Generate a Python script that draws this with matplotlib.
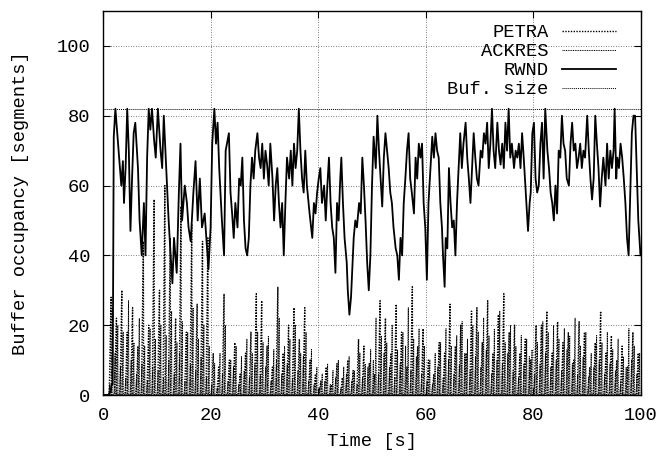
import numpy as np
import matplotlib

matplotlib.use("Agg")
import matplotlib.pyplot as plt

# RWND trace (time [s], segments)
rwnd_t = [0.0, 0.5, 1.0, 1.4, 1.6, 1.8, 2.0, 2.3, 2.9, 3.4, 3.7, 3.9, 4.2, 4.5, 4.8, 5.1, 5.4, 5.7, 6.0, 6.5,
          6.8, 7.2, 7.6, 7.9, 8.2, 8.5, 8.8, 9.1, 9.5, 9.8, 10.2, 10.7, 11.0, 11.3, 11.6, 11.9, 12.2, 12.5, 12.9, 13.2,
          13.7, 14.1, 14.4, 14.7, 15.2, 15.6, 15.9, 16.3, 16.8, 17.2, 17.6, 18.0, 18.4, 18.9, 19.2, 19.6, 20.0, 20.3, 20.7, 21.0,
          21.3, 21.6, 22.1, 22.5, 22.8, 23.4, 23.7, 24.0, 24.3, 24.6, 25.0, 25.3, 25.6, 25.9, 26.2, 26.5, 26.8, 27.1, 27.4, 27.7,
          28.0, 28.3, 28.7, 29.0, 29.3, 29.6, 29.9, 30.2, 30.5, 30.8, 31.1, 31.5, 31.8, 32.1, 32.4, 32.7, 33.0, 33.3, 33.6, 33.9,
          34.2, 34.6, 34.9, 35.2, 35.5, 35.8, 36.1, 36.4, 36.7, 37.0, 37.3, 37.6, 37.9, 38.4, 38.9, 39.2, 39.5, 39.8, 40.1, 40.4,
          40.7, 41.1, 41.4, 41.7, 42.0, 42.3, 42.6, 42.9, 43.2, 43.5, 43.8, 44.1, 44.3, 44.6, 44.9, 45.3, 45.5, 45.8, 46.1, 46.4,
          46.6, 46.9, 47.2, 47.6, 47.9, 48.2, 48.5, 48.8, 49.1, 49.4, 49.7, 50.0, 50.3, 50.7, 51.0, 51.3, 51.6, 51.9, 52.2, 52.5,
          52.8, 53.1, 53.4, 53.7, 54.0, 54.4, 54.7, 55.0, 55.3, 55.6, 55.9, 56.2, 56.5, 56.8, 57.1, 57.4, 57.8, 58.1, 58.4, 58.7,
          59.0, 59.3, 59.6, 59.9, 60.2, 60.5, 60.9, 61.2, 61.5, 61.8, 62.1, 62.4, 62.7, 63.0, 63.2, 63.5, 63.7, 64.0, 64.3, 64.6,
          64.9, 65.2, 65.5, 65.8, 66.1, 66.4, 66.7, 67.0, 67.4, 67.7, 68.0, 68.3, 68.6, 68.9, 69.2, 69.5, 69.8, 70.2, 70.5, 70.8,
          71.1, 71.4, 71.7, 72.0, 72.3, 72.6, 72.9, 73.3, 73.6, 73.9, 74.2, 74.5, 74.8, 75.1, 75.4, 75.7, 76.0, 76.4, 76.7, 77.0,
          77.3, 77.6, 77.9, 78.2, 78.5, 78.8, 79.0, 79.3, 79.5, 79.8, 80.1, 80.4, 80.7, 81.0, 81.3, 81.6, 81.9, 82.2, 82.6, 82.9,
          83.2, 83.5, 83.8, 84.1, 84.4, 84.7, 85.0, 85.3, 85.6, 85.9, 86.2, 86.6, 86.9, 87.2, 87.5, 87.8, 88.1, 88.4, 88.7, 89.0,
          89.3, 89.6, 90.0, 90.3, 90.6, 90.9, 91.2, 91.5, 91.8, 92.1, 92.4, 92.7, 93.0, 93.4, 93.7, 94.0, 94.3, 94.6, 94.9, 95.1,
          95.4, 95.6, 95.9, 96.2, 96.5, 96.8, 97.1, 97.4, 97.7, 98.0, 98.3, 98.6, 98.9, 99.2, 99.5, 99.9]
rwnd_v = [0, 0, 0, 1, 3, 3, 74, 82, 70, 60, 67, 55, 65, 82, 70, 47, 62, 75, 78, 65,
          50, 40, 55, 40, 68, 82, 76, 82, 73, 68, 82, 70, 65, 80, 70, 60, 50, 42, 32, 45,
          35, 58, 72, 50, 60, 55, 48, 44, 58, 67, 50, 62, 48, 52, 45, 36, 48, 72, 82, 72,
          78, 65, 50, 40, 70, 75, 58, 52, 45, 55, 48, 62, 60, 68, 50, 42, 40, 45, 60, 68,
          62, 70, 75, 68, 65, 72, 62, 70, 66, 60, 72, 62, 50, 60, 65, 55, 48, 55, 40, 55,
          68, 62, 70, 60, 72, 65, 70, 82, 70, 62, 58, 70, 60, 52, 45, 55, 52, 58, 62, 65,
          55, 60, 50, 60, 68, 55, 48, 45, 35, 55, 50, 62, 68, 55, 45, 38, 30, 23, 28, 38,
          45, 50, 48, 55, 52, 68, 60, 50, 38, 30, 40, 60, 74, 65, 80, 70, 62, 54, 68, 75,
          70, 65, 58, 55, 48, 42, 40, 33, 45, 40, 55, 62, 70, 75, 62, 58, 52, 68, 62, 72,
          68, 72, 55, 48, 33, 55, 66, 74, 68, 75, 70, 68, 55, 48, 40, 31, 45, 42, 65, 55,
          48, 50, 40, 55, 65, 75, 65, 72, 78, 68, 62, 55, 65, 75, 68, 62, 60, 70, 68, 75,
          72, 78, 65, 72, 82, 70, 65, 78, 70, 66, 72, 65, 78, 70, 82, 68, 72, 65, 70, 68,
          72, 65, 75, 68, 60, 52, 47, 55, 58, 75, 78, 62, 58, 60, 72, 78, 62, 82, 70, 65,
          58, 55, 50, 60, 52, 70, 68, 80, 72, 70, 62, 60, 72, 78, 70, 72, 65, 68, 72, 65,
          70, 68, 80, 70, 62, 56, 62, 80, 72, 65, 54, 62, 68, 60, 72, 62, 70, 65, 70, 82,
          62, 68, 65, 72, 68, 62, 55, 45, 40, 58, 75, 80, 80, 65, 50, 40]

# PETRA: one spike per second (peak value), centred at t = 0.5, 1.5, ...
petra_peaks = [0, 28, 22, 30, 18, 25, 14, 44, 20, 56, 30, 60, 45, 22, 54, 18, 49, 26, 44, 45,
               12, 8, 29, 10, 15, 6, 12, 18, 29, 27, 14, 8, 31, 12, 20, 25, 16, 25, 10, 6,
               4, 8, 3, 9, 5, 10, 7, 16, 14, 9, 6, 27, 22, 12, 26, 18, 8, 31, 14, 19,
               10, 6, 15, 12, 26, 14, 20, 12, 24, 25, 15, 27, 12, 23, 29, 18, 20, 12, 16, 10,
               20, 20, 24, 12, 21, 15, 18, 10, 21, 18, 8, 15, 24, 12, 17, 10, 14, 8, 18, 12]

# ACKRES: one spike every half second (peak value)
ackres_peaks = [0, 0, 3, 25, 12, 20, 8, 18, 5, 27, 10, 15, 6, 22, 9, 14, 4, 19, 8, 16,
                7, 20, 5, 17, 10, 24, 6, 15, 12, 21, 4, 18, 9, 25, 7, 16, 11, 20, 5, 14,
                3, 9, 2, 12, 6, 20, 4, 10, 8, 14, 3, 11, 7, 16, 5, 12, 9, 18, 6, 15,
                8, 17, 4, 13, 10, 22, 6, 14, 9, 16, 5, 20, 7, 12, 11, 18, 4, 13, 3, 8,
                2, 6, 4, 9, 3, 7, 5, 10, 2, 8, 6, 11, 4, 7, 3, 12, 5, 9, 8, 13,
                10, 22, 6, 17, 12, 15, 8, 20, 5, 13, 9, 18, 14, 25, 7, 16, 11, 19, 6, 14,
                4, 10, 3, 12, 8, 15, 5, 19, 10, 14, 6, 17, 9, 21, 12, 16, 7, 20, 11, 18,
                8, 22, 13, 17, 6, 19, 10, 24, 9, 15, 12, 20, 7, 14, 5, 17, 9, 16, 11, 13,
                6, 15, 9, 21, 12, 18, 8, 20, 10, 16, 7, 19, 13, 17, 9, 22, 6, 14, 11, 18,
                5, 12, 8, 17, 10, 15, 6, 18, 9, 13, 7, 16, 4, 11, 8, 19, 10, 14, 6, 12]

buf_size = 82


def sawtooth(step, peaks, rise, fall=0.05):
    t = np.arange(len(peaks)) * step + step / 2
    xs = np.column_stack([t - rise, t, t + fall]).ravel()
    ys = np.column_stack([np.zeros(len(peaks)), peaks, np.zeros(len(peaks))]).ravel()
    return xs, ys


plt.rcParams["font.family"] = "Liberation Mono"
plt.rcParams["font.size"] = 13.5

fig = plt.figure(figsize=(6.66, 4.58), dpi=100)
ax = fig.add_axes([103 / 666, 63 / 458, 538 / 666, 384 / 458])

px, py = sawtooth(1.0, petra_peaks, 0.35)
ax.plot(px, py, color="black", lw=1.0, ls=(0, (1, 1)), label="PETRA")
ackx, acky = sawtooth(0.5, ackres_peaks, 0.2)
ax.plot(ackx, acky, color="black", lw=0.7, ls=(0, (1, 0.8)), label="ACKRES")
ax.plot(rwnd_t, rwnd_v, color="black", lw=1.3, label="RWND")
ax.axhline(buf_size, color="black", lw=0.7, ls=(0, (1, 1)), label="Buf. size")

ax.set_xlim(0, 100)
ax.set_ylim(0, 110)
ax.set_xticks([0, 20, 40, 60, 80, 100])
ax.set_yticks([0, 20, 40, 60, 80, 100])
ax.grid(True, color="#555555", lw=0.6, ls=(0, (1, 2)))
ax.tick_params(direction="in", top=True, right=True, length=5, width=0.8, pad=9)
for s in ax.spines.values():
    s.set_linewidth(1.0)

ax.set_xlabel("Time [s]", labelpad=6)
ax.set_ylabel("Buffer occupancy [segments]", labelpad=20)

leg = ax.legend(loc="upper right", bbox_to_anchor=(616 / 666, 1 - 24 / 458), bbox_transform=fig.transFigure,
                frameon=False, markerfirst=False, handlelength=2.9, handletextpad=0.7,
                labelspacing=0.1, borderpad=0, borderaxespad=0)
for t in leg.get_texts():
    t.set_ha("right")

fig.savefig("out.png", dpi=100)
